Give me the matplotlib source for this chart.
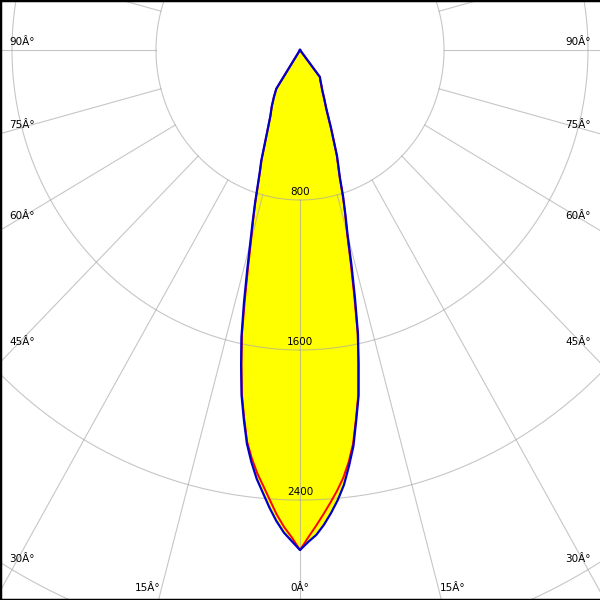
"""Polar luminous intensity diagram (cd), C0/C180 red, C90/C270 blue."""

import numpy as np
import matplotlib.pyplot as plt

# gamma angles (deg from nadir) and intensities (cd) per C-plane half
gamma = [0, 1, 2, 3, 4, 5, 6, 7, 8, 9, 10, 11, 12, 13, 14, 15, 16, 17, 18, 19, 20,
         22.5, 25, 27.5, 30, 32.5, 35, 37.5, 40]
c0_red = [2667, 2600, 2540, 2480, 2420, 2360, 2295, 2215, 2120, 1990, 1865, 1700, 1540,
          1335, 1160, 1010, 910, 815, 715, 650, 598,
          450, 346, 290, 247, 220, 197, 182, 0]
c180_red = [2667, 2600, 2545, 2480, 2405, 2335, 2270, 2195, 2110, 1985, 1860, 1705, 1550,
            1360, 1190, 1050, 945, 850, 755, 680, 625,
            480, 390, 340, 290, 245, 0, 0, 0]
c90_blue = [2667, 2624, 2588, 2536, 2475, 2409, 2333, 2235, 2133, 1998, 1874, 1705, 1549,
            1358, 1182, 1022, 916, 820, 718, 655, 601,
            450, 346, 290, 247, 220, 197, 182, 0]
c270_blue = [2667, 2620, 2575, 2515, 2445, 2370, 2300, 2215, 2120, 1995, 1870, 1715, 1565,
             1385, 1215, 1070, 955, 855, 760, 685, 630,
             480, 390, 340, 290, 245, 0, 0, 0]

ring_values = [800, 1600, 2400, 3200]
ring_labels = ["800", "1600", "2400"]
spoke_step = 15
side_labels = [90, 75, 60, 45, 30]
bottom_labels = [15, 0]

# pixel scale of the original: 0.18 px/cd across, 0.1875 px/cd down, pole at (300, 50)
SX, SY = 0.18, 0.1875
XLIM = (-300 / SX, 300 / SX)
YLIM = (-550 / SY, 50 / SY)


def to_xy(r, g_deg, side):
    g = np.radians(np.asarray(g_deg, float))
    r = np.asarray(r, float)
    return side * r * np.sin(g), -r * np.cos(g)


def half_curve(left, right):
    xl, yl = to_xy(left, gamma, -1)
    xr, yr = to_xy(right, gamma, 1)
    return np.r_[xl[::-1], xr], np.r_[yl[::-1], yr]


fig = plt.figure(figsize=(6, 6), dpi=100)
ax = fig.add_axes([0, 0, 1, 1])
ax.set_xlim(*XLIM)
ax.set_ylim(*YLIM)
ax.set_xticks([])
ax.set_yticks([])
for name, sp in ax.spines.items():
    sp.set_color("black")
    sp.set_linewidth(2.5)
ax.spines["right"].set_visible(False)

# yellow body of the distribution
bx, by = half_curve(c270_blue, c90_blue)
ax.fill(bx, by, color="#ffff00", lw=0, zorder=1)

# grid: rings and spokes (spokes start at the first ring)
t = np.linspace(0, 360, 721)
for rv in ring_values:
    x, y = to_xy(np.full_like(t, rv), t, 1)
    ax.plot(x, y, color="#a8a8a8", lw=0.8, alpha=0.65, zorder=2)
for a in range(0, 360, spoke_step):
    x, y = to_xy([ring_values[0], 8000], [a, a], 1)
    ax.plot(x, y, color="#a8a8a8", lw=0.8, alpha=0.65, zorder=2)

# curves
rx, ry = half_curve(c180_red, c0_red)
ax.plot(rx, ry, color="#ff0000", lw=1.4, zorder=3)
ax.plot(bx, by, color="#0000cc", lw=1.6, zorder=4)

fs = 7.5
for rv, lab in zip(ring_values, ring_labels):
    ax.text(0, -rv + 3 / SY, lab, ha="center", va="bottom", fontsize=fs, zorder=5)

# angle labels at the image edges
edge_x = 285 / SX
for a in side_labels:
    if a == 90:
        y = 3 / SY
    else:
        y = -edge_x / np.tan(np.radians(a))
    ax.text(-291 / SX, y, f"{a}Â°", ha="left", va="bottom", fontsize=fs, zorder=5)
    ax.text(291 / SX, y, f"{a}Â°", ha="right", va="bottom", fontsize=fs, zorder=5)

y_bot = -(543 / SY)
for a in bottom_labels:
    xr = -y_bot * np.tan(np.radians(a))
    if a == 0:
        ax.text(0, y_bot, f"{a}Â°", ha="center", va="bottom", fontsize=fs, zorder=5)
    else:
        ax.text(-xr, y_bot, f"{a}Â°", ha="right", va="bottom", fontsize=fs, zorder=5)
        ax.text(xr, y_bot, f"{a}Â°", ha="left", va="bottom", fontsize=fs, zorder=5)

fig.savefig("out.png", dpi=100)
